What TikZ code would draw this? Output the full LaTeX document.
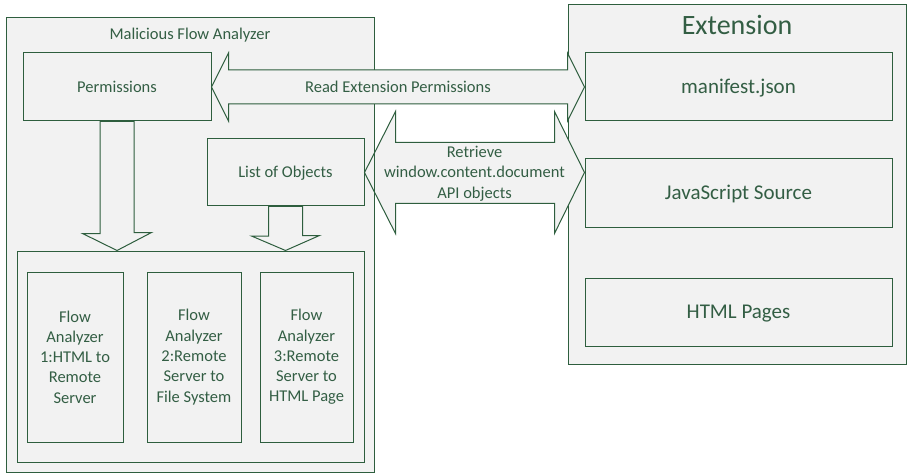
\documentclass[tikz,border=0pt]{standalone}
\usepackage{fontspec}
\setmainfont{Carlito}
\usetikzlibrary{calc}
\definecolor{lineg}{HTML}{2E5E3E}
\definecolor{txtg}{HTML}{335E44}
\definecolor{bgf}{HTML}{F2F2F2}
\tikzset{
  box/.style={draw=lineg, fill=bgf, line width=1pt, inner sep=0pt, text=txtg},
  small/.style={font=\fontsize{16.5}{20.3}\selectfont},
  big/.style={font=\fontsize{21}{25}\selectfont},
  cap16/.style={text height=10.6pt, text depth=0pt},
  cap21/.style={text height=13.5pt, text depth=0pt},
  bigarrow/.style={draw=lineg, fill=bgf, line width=1pt, line join=miter},
  lbl/.style={text=txtg, inner sep=0pt},
}
\begin{document}
\begin{tikzpicture}[x=1pt, y=-1pt]
\useasboundingbox (0,0) rectangle (907,473);
% backgrounds
\node[fill=bgf, inner sep=0pt, outer sep=0pt, minimum width=368, minimum height=454] (mfa) at (190,245) {};
\node[box, minimum width=338, minimum height=359] (ext) at (737,184.5) {};
% titles
\node[lbl, small, anchor=base] (mfatitle) at (190,39.3) {Malicious Flow Analyzer};
\node[lbl, font=\fontsize{28}{32}\selectfont, anchor=base] (exttitle) at (737,35) {Extension};
% extension boxes
\node[box, big, cap21, minimum width=307, minimum height=68] (manifest) at (738.5,87) {manifest.json};
\node[box, big, cap21, minimum width=307, minimum height=68] (js) at (738.5,193) {JavaScript Source};
\node[box, big, cap21, minimum width=307, minimum height=68] (html) at (738.5,312) {HTML Pages};
% left boxes
\node[box, small, cap16, minimum width=188, minimum height=68] (perm) at (117,87) {Permissions};
\node[box, small, cap16, minimum width=157, minimum height=67] (list) at (285.5,172.5) {List of Objects};
\node[box, minimum width=347, minimum height=211] (inner) at (190.5,356.5) {};
\node[box, small, align=center, minimum width=96, minimum height=170] (fa1) at (75,357) {Flow\\Analyzer\\1:HTML to\\Remote\\Server};
\node[box, small, align=center, minimum width=94, minimum height=170] (fa2) at (194,357) {Flow\\Analyzer\\2:Remote\\Server to\\File System};
\node[box, small, align=center, minimum width=93, minimum height=170] (fa3) at (306.5,357) {Flow\\Analyzer\\3:Remote\\Server to\\HTML Page};
% down arrows
\draw[bigarrow] ([xshift=-17pt]perm.south) -- ++(0,112) -- ++(-17.5,0) -- (perm.south |- inner.north) -- ++(34.5,-18) -- ++(-17.5,0) -- ([xshift=17pt]perm.south) -- cycle;
\draw[bigarrow] ([xshift=-17pt]list.south) -- ++(0,29.5) -- ++(-17,0) -- (list.south |- inner.north) -- ++(34,-15) -- ++(-17,0) -- ([xshift=17pt]list.south) -- cycle;
% retrieve arrow
\draw[bigarrow] (list.east) -- ++(31,-61) -- ++(0,31) -- ($(list.east -| js.west)+(-30,-30)$) -- ++(0,-31) -- (list.east -| js.west) -- ++(-30,61) -- ++(0,-30) -- ($(list.east)+(31,31)$) -- ++(0,30) -- cycle;
\node[lbl, small, align=center] (retrlbl) at ($(list.east)!0.5!(list.east -| js.west)+(0,1)$) {Retrieve\\window.content.document\\API objects};
% MFA border
\draw[draw=lineg, line width=1pt] (mfa.north west) rectangle (mfa.south east);
% read arrow
\draw[bigarrow] (perm.east) -- ($(perm.east)+(17,-34)$) -- ($(perm.east)+(17,-17)$) -- ($(manifest.west)+(-17,-17)$) -- ($(manifest.west)+(-17,-34)$) -- (manifest.west) -- ($(manifest.west)+(-17,34)$) -- ($(manifest.west)+(-17,17)$) -- ($(perm.east)+(17,17)$) -- ($(perm.east)+(17,34)$) -- cycle;
\node[lbl, small, cap16] (readlbl) at ($(perm.east)!0.5!(manifest.west)$) {Read Extension Permissions};
\end{tikzpicture}
\end{document}
